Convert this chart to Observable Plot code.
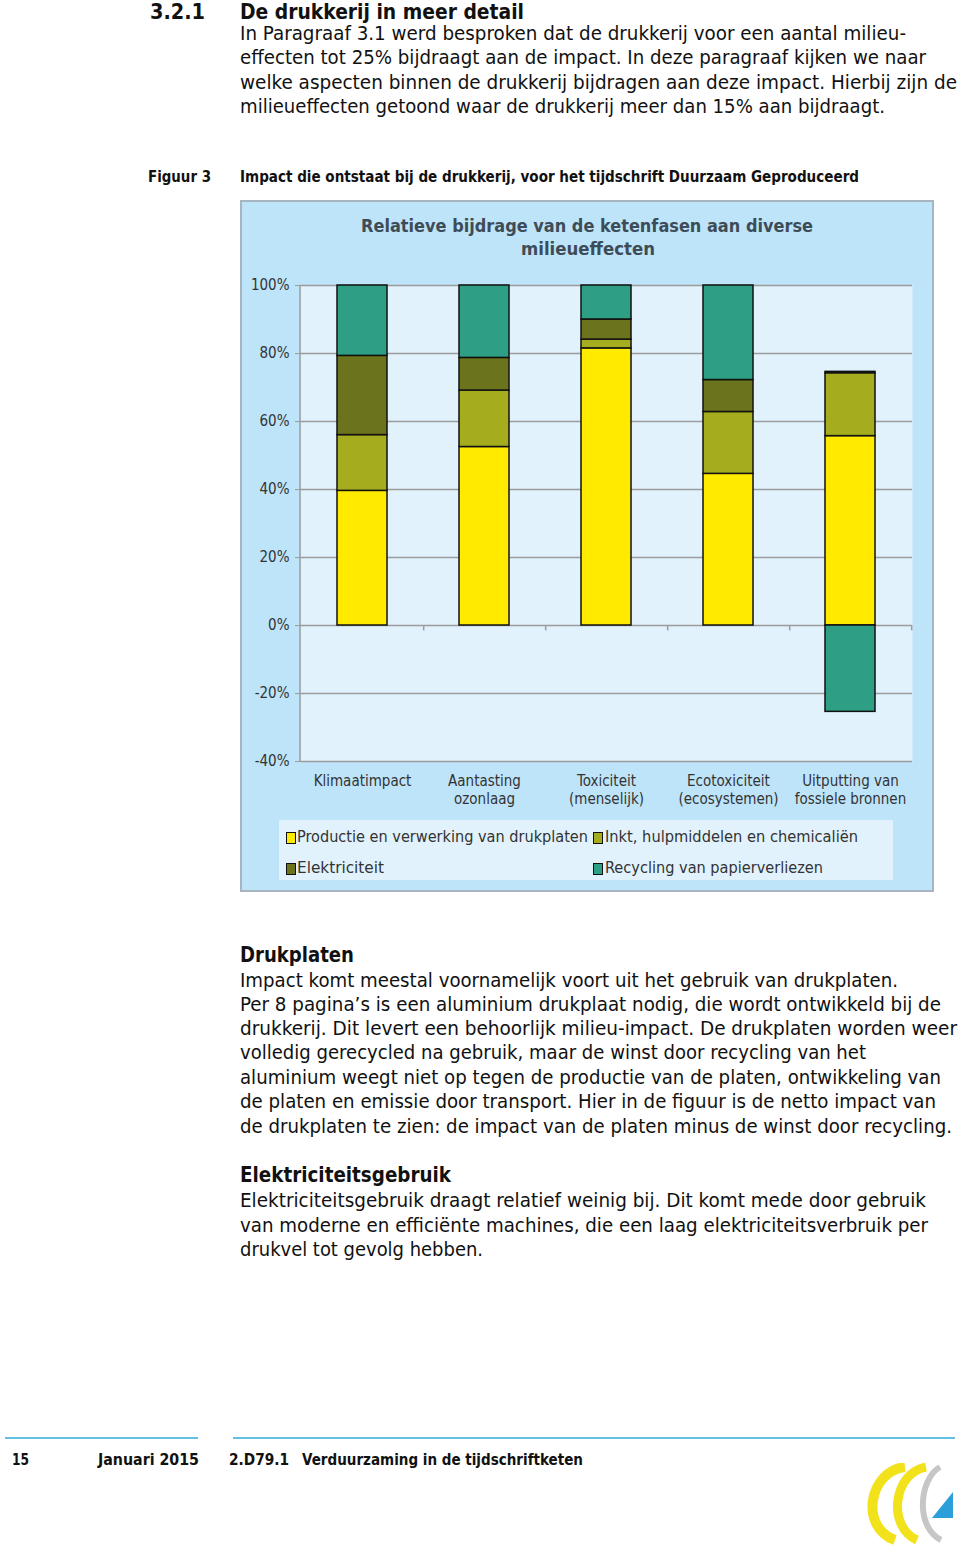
<!DOCTYPE html>
<html><head><meta charset="utf-8">
<script src="https://cdn.jsdelivr.net/npm/d3@7"></script>
<script src="https://cdn.jsdelivr.net/npm/@observablehq/plot@0.6"></script>
<style>
body{margin:0;background:#fff;}
#page{position:relative;width:960px;height:1547px;overflow:hidden;font-family:"DejaVu Sans Condensed","DejaVu Sans",sans-serif;color:#111;}
.t{position:absolute;white-space:nowrap;transform-origin:0 50%;line-height:1.15;}
#frame{position:absolute;left:240px;top:200px;width:690px;height:688px;background:#bee4fa;border:2px solid #a7b5c1;}
#chart{position:absolute;left:240px;top:270px;}
#legend{position:absolute;left:279px;top:820px;width:614px;height:60px;background:#e1f2fd;}
.sw{position:absolute;width:8px;height:10px;border:1.5px solid #111;}
.hl{position:absolute;height:2px;background:#62c0e2;top:1437px;}
</style></head>
<body><div id="page">
<div id="frame"></div>
<div id="legend"></div>
<div id="chart"></div>
<div class="hl" style="left:5px;width:193px"></div>
<div class="hl" style="left:233px;width:722px"></div>
<svg style="position:absolute;left:855px;top:1463px" width="100" height="82" viewBox="0 0 100 82">
  <path d="M 50 4 C 14 8, 4 64, 40 77" fill="none" stroke="#f2e21c" stroke-width="10"/>
  <path d="M 71 4 C 38 10, 32 64, 62 77" fill="none" stroke="#f2e21c" stroke-width="9"/>
  <path d="M 85 4 C 64 16, 60 64, 86 77" fill="none" stroke="#c4c6c8" stroke-width="6"/>
  <polygon points="77,55 98,55 98,29" fill="#2a9fd9"/>
</svg>
</div>
<script>
// ---------- data ----------
const categories = ["Klimaatimpact","Aantasting ozonlaag","Toxiciteit (menselijk)","Ecotoxiciteit (ecosystemen)","Uitputting van fossiele bronnen"];
const tickLabels = ["Klimaatimpact","Aantasting\nozonlaag","Toxiciteit\n(menselijk)","Ecotoxiciteit\n(ecosystemen)","Uitputting van\nfossiele bronnen"];
const series = ["Productie en verwerking van drukplaten","Inkt, hulpmiddelen en chemicaliën","Elektriciteit","Recycling van papierverliezen"];
const drukplaten    = [39.6, 52.5, 81.5, 44.6, 55.7];
const inkt          = [16.4, 16.6,  2.6, 18.2, 18.5];
const elektriciteit = [23.3,  9.6,  5.9,  9.4,  0.4];
const recycling     = [20.7, 21.3, 10.0, 27.8, -25.4];
const yTicks = [-40, -20, 0, 20, 40, 60, 80, 100];
const seriesColors = ["#ffea00", "#a5ad1f", "#6b741c", "#2e9e84"];
const chartTitle = ["Relatieve bijdrage van de ketenfasen aan diverse", "milieueffecten"];

const seriesValues = [drukplaten, inkt, elektriciteit, recycling];
const rows = series.flatMap((s, si) => categories.map((c, ci) => ({category: c, series: s, value: seriesValues[si][ci]})));

// ---------- chart ----------
const W = 694, H = 541, mL = 60, mR = 22, mT = 15, mB = 50;
const step = (W - mL - mR) / categories.length;
const FONT = '"DejaVu Sans Condensed","DejaVu Sans",sans-serif';
const chart = Plot.plot({
  width: W, height: H,
  marginLeft: mL, marginRight: mR, marginTop: mT, marginBottom: mB,
  style: {background: "transparent", fontFamily: FONT, fontSize: "15px", color: "#333", overflow: "visible"},
  x: {domain: categories, paddingInner: 0.59, paddingOuter: 0.295, label: null, tickSize: 0, tickPadding: 12,
      tickFormat: (d) => tickLabels[categories.indexOf(d)]},
  y: {domain: [-40, 100], ticks: yTicks, tickFormat: d => d + "%", label: null, tickSize: 5, tickPadding: 6},
  color: {domain: series, range: seriesColors},
  marks: [
    Plot.frame({fill: "#e1f2fd", stroke: null}),
    Plot.ruleY(yTicks, {stroke: "#9c9c9c", strokeWidth: 1.5}),
    (index, scales, values, dims) => {
      const ns = "http://www.w3.org/2000/svg";
      const l = document.createElementNS(ns, "line");
      l.setAttribute("x1", dims.marginLeft); l.setAttribute("x2", dims.marginLeft);
      l.setAttribute("y1", dims.marginTop); l.setAttribute("y2", dims.height - dims.marginBottom);
      l.setAttribute("stroke", "#9c9c9c"); l.setAttribute("stroke-width", 1.5);
      return l;
    },
    Plot.ruleX(categories, {x: d => d, y1: 0, y2: -1.6, dx: step / 2, stroke: "#9c9c9c", strokeWidth: 1.5}),
    Plot.axisY({ticks: yTicks, tickFormat: d => d + "%", tickSize: 5, tickPadding: 6, stroke: "#9c9c9c", label: null}),
    Plot.axisX({tickSize: 0, tickPadding: 12, tickFormat: (d) => tickLabels[categories.indexOf(d)], label: null, lineHeight: 1.2}),
    Plot.barY(rows, {x: "category", y: "value", fill: "series", order: series, stroke: "#111", strokeWidth: 1.5})
  ]
});
document.getElementById("chart").appendChild(chart);

// ---------- texts ----------
// [x, yCenter, targetWidth, fontSize, bold, text, color]
const texts = [
  [150, 11, 55, 21, 1, "3.2.1"],
  [240, 11, 284, 21, 1, "De drukkerij in meer detail"],
  [240, 34, 666, 19, 0, "In Paragraaf 3.1 werd besproken dat de drukkerij voor een aantal milieu-"],
  [240, 58, 686, 19, 0, "effecten tot 25% bijdraagt aan de impact. In deze paragraaf kijken we naar"],
  [240, 83, 717, 19, 0, "welke aspecten binnen de drukkerij bijdragen aan deze impact. Hierbij zijn de"],
  [240, 107, 645, 19, 0, "milieueffecten getoond waar de drukkerij meer dan 15% aan bijdraagt."],
  [148, 177, 63, 15, 1, "Figuur 3"],
  [240, 177, 619, 15, 1, "Impact die ontstaat bij de drukkerij, voor het tijdschrift Duurzaam Geproduceerd"],
  [361, 226, 452, 18, 1, chartTitle[0], "#3d4c57"],
  [521, 249, 134, 18, 1, chartTitle[1], "#3d4c57"],
  [297, 837, 291, 15, 0, series[0], "#333"],
  [605, 837, 253, 15, 0, series[1], "#333"],
  [297, 868, 87, 15, 0, series[2], "#333"],
  [605, 868, 218, 15, 0, series[3], "#333"],
  [240, 955, 114, 21, 1, "Drukplaten"],
  [240, 981, 658, 19, 0, "Impact komt meestal voornamelijk voort uit het gebruik van drukplaten."],
  [240, 1005, 701, 19, 0, "Per 8 pagina’s is een aluminium drukplaat nodig, die wordt ontwikkeld bij de"],
  [240, 1029, 717, 19, 0, "drukkerij. Dit levert een behoorlijk milieu-impact. De drukplaten worden weer"],
  [240, 1053, 626, 19, 0, "volledig gerecycled na gebruik, maar de winst door recycling van het"],
  [240, 1078, 701, 19, 0, "aluminium weegt niet op tegen de productie van de platen, ontwikkeling van"],
  [240, 1102, 696, 19, 0, "de platen en emissie door transport. Hier in de figuur is de netto impact van"],
  [240, 1127, 712, 19, 0, "de drukplaten te zien: de impact van de platen minus de winst door recycling."],
  [240, 1175, 211, 21, 1, "Elektriciteitsgebruik"],
  [240, 1201, 686, 19, 0, "Elektriciteitsgebruik draagt relatief weinig bij. Dit komt mede door gebruik"],
  [240, 1226, 688, 19, 0, "van moderne en efficiënte machines, die een laag elektriciteitsverbruik per"],
  [240, 1250, 243, 19, 0, "drukvel tot gevolg hebben."],
  [12, 1460, 17, 15, 1, "15"],
  [98, 1460, 101, 15, 1, "Januari 2015"],
  [229, 1460, 60, 15, 1, "2.D79.1"],
  [302, 1460, 281, 15, 1, "Verduurzaming in de tijdschriftketen"]
];
const page = document.getElementById("page");
for (const [x, yc, w, fs, b, s, col] of texts) {
  const el = document.createElement("div");
  el.className = "t";
  el.textContent = s;
  el.style.left = x + "px";
  el.style.top = Math.max(0, yc - 0.555 * fs) + "px";
  el.style.fontSize = fs + "px";
  el.style.fontWeight = b ? "bold" : "normal";
  el.style.color = col || "#111";
  page.appendChild(el);
  const aw = el.getBoundingClientRect().width;
  if (aw > 0) el.style.transform = `scaleX(${w / aw})`;
}
// legend swatches
const swPos = [[286, 832], [593, 832], [286, 863], [593, 863]];
swPos.forEach(([x, y], i) => {
  const d = document.createElement("div");
  d.className = "sw";
  d.style.left = x + "px"; d.style.top = y + "px";
  d.style.background = seriesColors[i];
  page.appendChild(d);
});
</script>
</body></html>
